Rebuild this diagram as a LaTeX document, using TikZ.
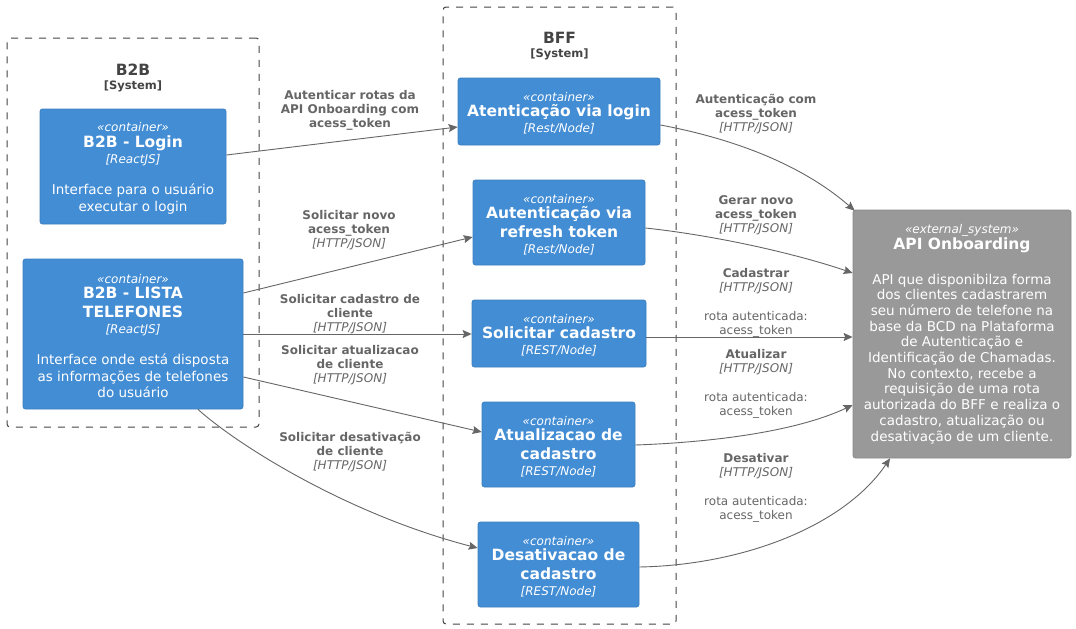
\documentclass[tikz,border=0pt]{standalone}
\usepackage{fontspec}
\setmainfont{DejaVu Sans}
\usetikzlibrary{arrows.meta,calc}
\definecolor{cblue}{HTML}{438DD5}
\definecolor{cblueb}{HTML}{3C7FC0}
\definecolor{cgray}{HTML}{999999}
\definecolor{cgrayb}{HTML}{8A8A8A}
\definecolor{lblgray}{HTML}{666666}
\definecolor{bndgray}{HTML}{444444}
\newcommand\stereo[1]{{\fontsize{12}{14}\selectfont\itshape #1}}
\newcommand\cstereo[1]{{\rule{0pt}{13pt}\fontsize{12}{14}\selectfont\itshape #1}}
\newcommand\ctitle[1]{{\fontsize{15.5}{18}\selectfont\bfseries #1}}
\newcommand\ctech[1]{{\fontsize{12}{14}\selectfont\itshape [#1]}}
\newcommand\cdesc[1]{{\fontsize{13.5}{16}\selectfont #1}}
\newcommand\ltech{{\mdseries\itshape [HTTP/JSON]}}
\newcommand\lnorm[1]{{\mdseries #1}}
\tikzset{
  container/.style={rectangle, rounded corners=2.5pt, fill=cblue, draw=cblueb, line width=0.8pt,
    text=white, align=center, inner sep=0pt, font=\fontsize{12}{16}\selectfont},
  extsys/.style={container, fill=cgray, draw=cgrayb},
  boundary/.style={rectangle, rounded corners=3pt, draw=bndgray, line width=1pt,
    dash pattern=on 7pt off 7pt, inner sep=0pt},
  btitle/.style={text=bndgray, inner sep=0pt, font=\fontsize{15.5}{18}\selectfont\bfseries},
  bsys/.style={text=bndgray, inner sep=0pt, font=\fontsize{11.5}{14}\selectfont\bfseries},
  lbl/.style={align=center, text=lblgray, inner sep=0pt, font=\fontsize{12}{14}\selectfont\bfseries},
  conn/.style={draw=lblgray, line width=0.9pt, -{Stealth[length=9pt,width=8pt,inset=1.5pt]}}
}
\begin{document}
\begin{tikzpicture}[x=1pt,y=-1pt]
\useasboundingbox (0,0) rectangle (1076,629);
\fill[white] (0,0) rectangle (1076,629);

% boundaries
\node[boundary, minimum width=252pt, minimum height=389pt] (b2b) at (133,232.5) {};
\node[btitle] (b2bt) at (133,70) {B2B};
\node[bsys] (b2bs) at (133,86) {[System]};
\node[boundary, minimum width=233pt, minimum height=617pt] (bff) at (559.5,315.5) {};
\node[btitle] (bfft) at (559.5,38) {BFF};
\node[bsys] (bffs) at (559.5,54) {[System]};

% containers
\node[container, minimum width=186pt, minimum height=115pt] (login) at (133,166.5)
  {\cstereo{«container»}\\[-0.5pt]\ctitle{B2B - Login}\\\ctech{ReactJS}\\[15.5pt]\cdesc{Interface para o usuário}\\[0.5pt]\cdesc{executar o login}};
\node[container, minimum width=220pt, minimum height=150pt] (lista) at (133,334)
  {\cstereo{«container»}\\[-0.5pt]\ctitle{B2B - LISTA}\\[2.5pt]\ctitle{TELEFONES}\\\ctech{ReactJS}\\[15.5pt]\cdesc{Interface onde está disposta}\\[0.5pt]\cdesc{as informações de telefones}\\[0.5pt]\cdesc{do usuário}};
\node[container, minimum width=202pt, minimum height=67pt] (atlogin) at (559,111.5)
  {\cstereo{«container»}\\[-0.5pt]\ctitle{Atenticação via login}\\\ctech{Rest/Node}};
\node[container, minimum width=172pt, minimum height=85pt] (refresh) at (559,222.5)
  {\cstereo{«container»}\\[-0.5pt]\ctitle{Autenticação via}\\[2.5pt]\ctitle{refresh token}\\\ctech{Rest/Node}};
\node[container, minimum width=174pt, minimum height=67pt] (solcad) at (559,333.5)
  {\cstereo{«container»}\\[-0.5pt]\ctitle{Solicitar cadastro}\\\ctech{REST/Node}};
\node[container, minimum width=153pt, minimum height=85pt] (atualiz) at (558.5,444.5)
  {\cstereo{«container»}\\[-0.5pt]\ctitle{Atualizacao de}\\[2.5pt]\ctitle{cadastro}\\\ctech{REST/Node}};
\node[container, minimum width=161pt, minimum height=85pt] (desativ) at (558.5,564.5)
  {\cstereo{«container»}\\[-0.5pt]\ctitle{Desativacao de}\\[2.5pt]\ctitle{cadastro}\\\ctech{REST/Node}};
\node[extsys, minimum width=218pt, minimum height=248pt] (api) at (962,334)
  {\stereo{«external\_system»}\\[-0.5pt]\ctitle{API Onboarding}\\[19pt]
   \cdesc{API que disponibilza forma}\\[-0.3pt]\cdesc{dos clientes cadastrarem}\\[-0.3pt]
   \cdesc{seu número de telefone na}\\[-0.3pt]\cdesc{base da BCD na Plataforma}\\[-0.3pt]
   \cdesc{de Autenticação e}\\[-0.3pt]\cdesc{Identificação de Chamadas.}\\[-0.3pt]
   \cdesc{No contexto, recebe a}\\[-0.3pt]\cdesc{requisição de uma rota}\\[-0.3pt]
   \cdesc{autorizada do BFF e realiza o}\\[-0.3pt]\cdesc{cadastro, atualização ou}\\[-0.3pt]
   \cdesc{desativação de um cliente.}};

% connectors
\draw[conn] (login.east |- 0,155) -- (atlogin.west |- 0,127);
\draw[conn] (lista.east |- 0,293) -- (refresh.west |- 0,237);
\draw[conn] (lista.east |- 0,334) -- (solcad.west |- 0,334);
\draw[conn] (lista.east |- 0,377) -- (atualiz.west |- 0,432);
\draw[conn] (lista.south -| 198,0) .. controls (240,447) and (350,515) .. (desativ.west |- 0,548);
\draw[conn] (atlogin.east |- 0,125) .. controls (730,138) and (800,163) .. ([shift={(2pt,-1pt)}]api.north west);
\draw[conn] (refresh.east |- 0,228) .. controls (720,236) and (800,255) .. (api.west |- 0,273);
\draw[conn] (solcad.east |- 0,337) -- (api.west |- 0,337);
\draw[conn] (atualiz.east |- 0,445) .. controls (720,442) and (800,430) .. (api.west |- 0,405);
\draw[conn] (desativ.east |- 0,567) .. controls (745,565) and (845,525) .. (api.south -| 890,0);

% labels
\node[lbl] (l1) at (350,110) {Autenticar rotas da\\API Onboarding com\\acess\_token};
\node[lbl] (l2) at (349,230) {Solicitar novo\\acess\_token\\\ltech};
\node[lbl] (l3) at (350,314) {Solicitar cadastro de\\cliente\\\ltech};
\node[lbl] (l4) at (350,365) {Solicitar atualizacao\\de cliente\\\ltech};
\node[lbl] (l5) at (350,452) {Solicitar desativação\\de cliente\\\ltech};
\node[lbl] (l6) at (756,114.5) {Autenticação com\\acess\_token\\\ltech};
\node[lbl] (l7) at (756,215.5) {Gerar novo\\acess\_token\\\ltech};
\node[lbl] (l8) at (756,303) {Cadastrar\\\ltech\\[15pt]\lnorm{rota autenticada:}\\\lnorm{acess\_token}};
\node[lbl] (l9) at (756,383.5) {Atualizar\\\ltech\\[15pt]\lnorm{rota autenticada:}\\\lnorm{acess\_token}};
\node[lbl] (l10) at (756,487.5) {Desativar\\\ltech\\[15pt]\lnorm{rota autenticada:}\\\lnorm{acess\_token}};
\end{tikzpicture}
\end{document}
